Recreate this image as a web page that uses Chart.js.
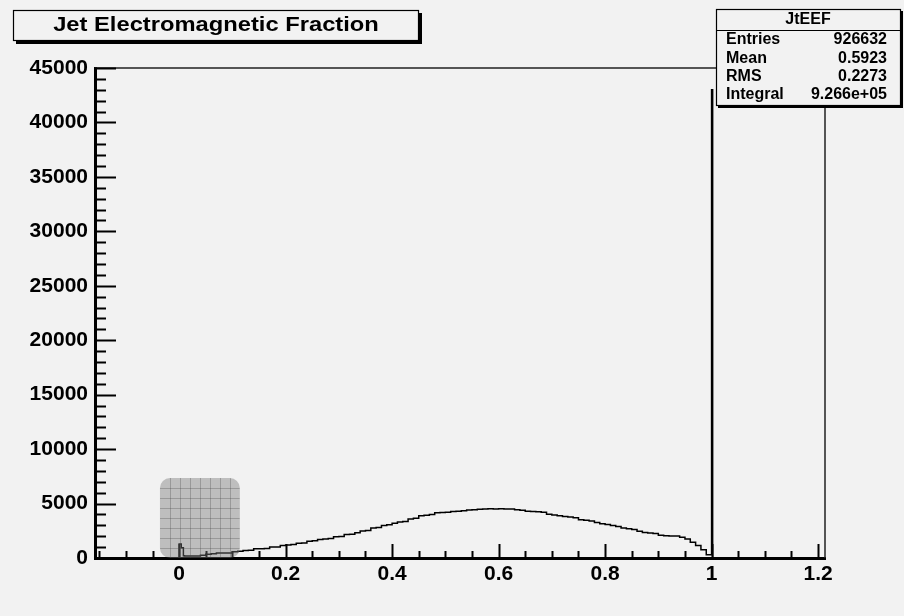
<!DOCTYPE html>
<html>
<head>
<meta charset="utf-8">
<script src="https://cdn.jsdelivr.net/npm/chart.js@4/dist/chart.umd.min.js"></script>
<style>
  html, body { margin: 0; padding: 0; background: #f2f2f2; }
  #wrap { width: 904px; height: 616px; }
</style>
</head>
<body>
<div id="wrap"><canvas id="jetEEF"></canvas></div>
<script>
// histogram JtEEF, bin low edges (last entry is the upper edge of the last bin)
const binEdges = [
  0.000, 0.004, 0.008, 0.010, 0.020, 0.030, 0.040, 0.050, 0.060, 0.070,
  0.080, 0.090, 0.100, 0.110, 0.120, 0.130, 0.140, 0.150, 0.160, 0.170,
  0.180, 0.190, 0.200, 0.210, 0.220, 0.230, 0.240, 0.250, 0.260, 0.270,
  0.280, 0.290, 0.300, 0.310, 0.320, 0.330, 0.340, 0.350, 0.360, 0.370,
  0.380, 0.390, 0.400, 0.410, 0.420, 0.430, 0.440, 0.450, 0.460, 0.470,
  0.480, 0.490, 0.500, 0.510, 0.520, 0.530, 0.540, 0.550, 0.560, 0.570,
  0.580, 0.590, 0.600, 0.610, 0.620, 0.630, 0.640, 0.650, 0.660, 0.670,
  0.680, 0.690, 0.700, 0.710, 0.720, 0.730, 0.740, 0.750, 0.760, 0.770,
  0.780, 0.790, 0.800, 0.810, 0.820, 0.830, 0.840, 0.850, 0.860, 0.870,
  0.880, 0.890, 0.900, 0.910, 0.920, 0.930, 0.940, 0.950, 0.960, 0.970,
  0.980, 0.990, 1.000, 1.002
];
const binCounts = [
  1290, 950, 200, 180, 190, 190, 260, 340, 400, 460,
  460, 470, 580, 620, 700, 710, 850, 860, 880, 1010,
  1020, 1150, 1200, 1230, 1350, 1380, 1540, 1580, 1690, 1750,
  1780, 1950, 1980, 2150, 2190, 2330, 2480, 2520, 2750, 2800,
  2980, 3060, 3200, 3310, 3360, 3580, 3640, 3880, 3930, 3990,
  4150, 4170, 4200, 4280, 4300, 4350, 4410, 4420, 4480, 4500,
  4520, 4510, 4530, 4500, 4490, 4420, 4380, 4300, 4270, 4250,
  4200, 4020, 3950, 3880, 3800, 3760, 3690, 3520, 3460, 3400,
  3250, 3150, 3080, 2990, 2900, 2750, 2680, 2620, 2450, 2350,
  2300, 2250, 2100, 2050, 2010, 2030, 1900, 1750, 1450, 1150,
  750, 300, 43000
];

const histTitle = 'Jet Electromagnetic Fraction';
const statsName = 'JtEEF';
const statsLabels = ['Entries', 'Mean', 'RMS', 'Integral'];
const statsValues = ['926632', '0.5923', '0.2273', '9.266e+05'];

const xRange = [-0.158, 1.213];
const yRange = [0, 45000];

const FONT = '"Liberation Sans", Arial, Helvetica, sans-serif';
const BG = '#f2f2f2';

// step points: start on the axis, hold each count over its bin, drop back to 0
const histPoints = [{ x: binEdges[0], y: 0 }];
for (let i = 0; i < binCounts.length; i++) {
  histPoints.push({ x: binEdges[i], y: binCounts[i] });
}
histPoints.push({ x: binEdges[binEdges.length - 1], y: 0 });

const rootDecor = {
  id: 'rootDecor',
  beforeDraw(chart) {
    const c = chart.ctx;
    c.save();
    c.fillStyle = BG;
    c.fillRect(0, 0, chart.width, chart.height);
    c.restore();
  },
  afterDatasetsDraw(chart) {
    const c = chart.ctx, a = chart.chartArea;
    const xs = chart.scales.x, ys = chart.scales.y;
    c.save();
    // frame top and right
    c.strokeStyle = '#222';
    c.lineWidth = 1.5;
    c.beginPath();
    c.moveTo(a.left, a.top);
    c.lineTo(a.right, a.top);
    c.lineTo(a.right, a.bottom);
    c.stroke();

    // tick marks inside the frame
    c.strokeStyle = '#000';
    c.lineWidth = 2;
    c.beginPath();
    for (let k = 0; k * 1000 <= yRange[1]; k++) {
      const py = Math.round(ys.getPixelForValue(k * 1000)) + 0.5;
      const len = k % 5 === 0 ? 21 : 11;
      c.moveTo(a.left, py);
      c.lineTo(a.left + len, py);
    }
    for (let k = -3; k * 0.05 <= xRange[1]; k++) {
      const px = Math.round(xs.getPixelForValue(k * 0.05)) + 0.5;
      const len = k % 4 === 0 ? 14 : 7;
      c.moveTo(px, a.bottom);
      c.lineTo(px, a.bottom - len);
    }
    c.stroke();

    // grey checkered patch near the origin
    const bx0 = xs.getPixelForValue(-0.036), bx1 = xs.getPixelForValue(0.114);
    const by0 = ys.getPixelForValue(7350), by1 = ys.getPixelForValue(0);
    c.fillStyle = 'rgba(120,120,120,0.42)';
    c.beginPath();
    c.roundRect(bx0, by0, bx1 - bx0, by1 - by0, 10);
    c.fill();
    c.save();
    c.clip();
    c.strokeStyle = 'rgba(70,70,70,0.3)';
    c.lineWidth = 1;
    c.beginPath();
    for (let i = 1; i < 8; i++) {
      const gx = Math.round(bx0 + (bx1 - bx0) * i / 8) + 0.5;
      const gy = Math.round(by0 + (by1 - by0) * i / 8) + 0.5;
      c.moveTo(gx, by0); c.lineTo(gx, by1);
      c.moveTo(bx0, gy); c.lineTo(bx1, gy);
    }
    c.stroke();
    c.restore();
    c.restore();
  },
  afterDraw(chart) {
    const c = chart.ctx;
    c.save();
    // title box
    c.fillStyle = '#000';
    c.fillRect(16, 13, 406, 31);
    c.fillStyle = BG;
    c.fillRect(13, 10, 406, 31);
    c.strokeStyle = '#000';
    c.lineWidth = 1.2;
    c.strokeRect(13.5, 10.5, 405, 30);
    c.fillStyle = '#000';
    c.font = 'bold 21px ' + FONT;
    c.textAlign = 'center';
    c.textBaseline = 'middle';
    c.save();
    c.translate(216, 25);
    c.scale(1.13, 1);
    c.fillText(histTitle, 0, 0);
    c.restore();

    // stats box
    c.fillStyle = '#000';
    c.fillRect(718, 11, 185, 97);
    c.fillStyle = BG;
    c.fillRect(716, 9, 185, 97);
    c.strokeRect(716.5, 9.5, 184, 96);
    c.beginPath();
    c.moveTo(716, 30.5);
    c.lineTo(901, 30.5);
    c.stroke();
    c.fillStyle = '#000';
    c.font = 'bold 16px ' + FONT;
    c.fillText(statsName, 808, 20);
    const rowY = [40, 59, 77, 95];
    statsLabels.forEach((lab, i) => {
      c.textAlign = 'left';
      c.fillText(lab, 726, rowY[i]);
      c.textAlign = 'right';
      c.fillText(statsValues[i], 887, rowY[i]);
    });
    c.restore();
  }
};

new Chart(document.getElementById('jetEEF'), {
  type: 'line',
  data: {
    datasets: [{
      label: statsName,
      data: histPoints,
      stepped: 'before',
      borderColor: '#000',
      borderWidth: 1.5,
      pointRadius: 0,
      fill: false
    }]
  },
  options: {
    responsive: true,
    maintainAspectRatio: false,
    animation: false,
    events: [],
    layout: { padding: { top: 68, right: 79, left: 0, bottom: 0 } },
    plugins: {
      legend: { display: false },
      tooltip: { enabled: false }
    },
    scales: {
      x: {
        type: 'linear',
        min: xRange[0],
        max: xRange[1],
        grid: { display: false, drawTicks: false },
        border: { display: true, width: 3, color: '#000' },
        ticks: {
          stepSize: 0.2,
          includeBounds: false,
          padding: 4,
          color: '#000',
          font: { family: FONT, size: 21, weight: 'bold' },
          maxRotation: 0,
          autoSkip: false,
          callback: v => String(Math.round(v * 10) / 10)
        },
        afterFit: s => { s.height = 58; }
      },
      y: {
        min: yRange[0],
        max: yRange[1],
        grid: { display: false, drawTicks: false },
        border: { display: true, width: 3, color: '#000' },
        ticks: {
          stepSize: 5000,
          padding: 7,
          color: '#000',
          font: { family: FONT, size: 21, weight: 'bold' },
          callback: v => String(v)
        },
        afterFit: s => { s.width = 95; }
      }
    }
  },
  plugins: [rootDecor]
});
</script>
</body>
</html>
